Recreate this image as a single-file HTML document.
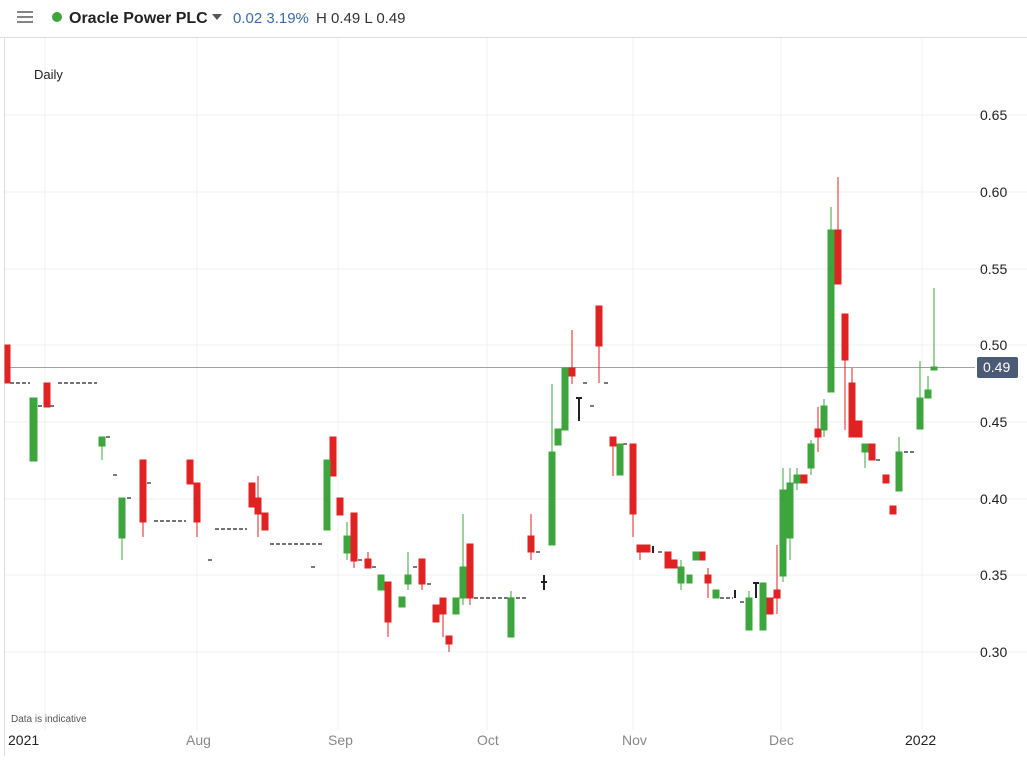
<!DOCTYPE html>
<html><head><meta charset="utf-8"><style>
body{margin:0;width:1027px;height:756px;background:#fff;overflow:hidden;font-family:"Liberation Sans",sans-serif}
</style></head><body>
<svg width="1027" height="756" xmlns="http://www.w3.org/2000/svg" font-family="Liberation Sans, sans-serif">
<rect width="1027" height="756" fill="#fff"/>
<line x1="0" y1="37.5" x2="1027" y2="37.5" stroke="#ddd"/>
<line x1="4.5" y1="37" x2="4.5" y2="756" stroke="#ddd"/>
<g stroke="#f0f0f0" stroke-width="1">
<line x1="45" y1="38" x2="45" y2="730"/><line x1="197" y1="38" x2="197" y2="730"/><line x1="338" y1="38" x2="338" y2="730"/><line x1="487" y1="38" x2="487" y2="730"/><line x1="633" y1="38" x2="633" y2="730"/><line x1="781" y1="38" x2="781" y2="730"/><line x1="922" y1="38" x2="922" y2="730"/>
<line x1="5" y1="115" x2="1027" y2="115"/><line x1="5" y1="192" x2="1027" y2="192"/><line x1="5" y1="269" x2="1027" y2="269"/><line x1="5" y1="345" x2="1027" y2="345"/><line x1="5" y1="422" x2="1027" y2="422"/><line x1="5" y1="499" x2="1027" y2="499"/><line x1="5" y1="575" x2="1027" y2="575"/><line x1="5" y1="652" x2="1027" y2="652"/>
</g>
<line x1="5" y1="367.5" x2="975" y2="367.5" stroke="#a0a4aa"/>
<g fill="#222" font-size="14">
<text x="980" y="120">0.65</text><text x="980" y="197">0.60</text><text x="980" y="274">0.55</text><text x="980" y="350">0.50</text><text x="980" y="427">0.45</text><text x="980" y="504">0.40</text><text x="980" y="580">0.35</text><text x="980" y="657">0.30</text>
</g>
<rect x="977" y="357" width="41" height="21" rx="2" fill="#4b5b75"/>
<text x="983" y="372" fill="#fff" font-size="14">0.49</text>
<g stroke="#666" stroke-width="1.6">
<line x1="17" y1="12" x2="33" y2="12"/><line x1="17" y1="17" x2="33" y2="17"/><line x1="17" y1="22" x2="33" y2="22"/>
</g>
<circle cx="57" cy="17" r="5" fill="#3ca63c"/>
<text x="69" y="23" font-size="16" font-weight="bold" fill="#222">Oracle Power PLC</text>
<path d="M212 14h10l-5 6z" fill="#555"/>
<text x="233" y="23" font-size="15" fill="#3a6ea5">0.02  3.19%</text>
<text x="316" y="23" font-size="15" fill="#333">H 0.49 L 0.49</text>
<text x="34" y="79" font-size="13" fill="#222">Daily</text>
<text x="11" y="722" font-size="10" fill="#555">Data is indicative</text>
<g font-size="14" fill="#888"><text x="186" y="745">Aug</text><text x="328" y="745">Sep</text><text x="477" y="745">Oct</text><text x="622" y="745">Nov</text><text x="769" y="745">Dec</text></g>
<g font-size="14" fill="#222"><text x="8" y="745">2021</text><text x="905" y="745">2022</text></g>
<g stroke="#222" stroke-width="1.2" stroke-dasharray="4,2">
<line x1="10" y1="383" x2="30" y2="383"/><line x1="38" y1="406" x2="56" y2="406"/><line x1="58" y1="383" x2="97" y2="383"/>
<line x1="106" y1="437" x2="111" y2="437"/><line x1="113" y1="475" x2="118" y2="475"/><line x1="127" y1="498" x2="132" y2="498"/>
<line x1="147" y1="483" x2="152" y2="483"/><line x1="154" y1="521" x2="186" y2="521"/><line x1="208" y1="560" x2="213" y2="560"/>
<line x1="215" y1="529" x2="247" y2="529"/><line x1="270" y1="544" x2="322" y2="544"/><line x1="311" y1="567" x2="316" y2="567"/>
<line x1="358" y1="560" x2="363" y2="560"/><line x1="372" y1="567" x2="377" y2="567"/><line x1="413" y1="567" x2="418" y2="567"/><line x1="427" y1="584" x2="432" y2="584"/>
<line x1="474" y1="598" x2="527" y2="598"/><line x1="536" y1="552" x2="541" y2="552"/><line x1="583" y1="383" x2="588" y2="383"/><line x1="590" y1="406" x2="595" y2="406"/><line x1="604" y1="383" x2="609" y2="383"/>
<line x1="623" y1="444" x2="629" y2="444"/><line x1="658" y1="552" x2="663" y2="552"/><line x1="720" y1="598" x2="733" y2="598"/><line x1="740" y1="602" x2="745" y2="602"/>
<line x1="876" y1="460" x2="881" y2="460"/><line x1="904" y1="452" x2="915" y2="452"/>
</g>
<g stroke="#222" stroke-width="2">
<line x1="544" y1="575" x2="544" y2="590"/><line x1="541" y1="582" x2="547" y2="582"/>
<line x1="579" y1="398" x2="579" y2="421"/><line x1="576" y1="398" x2="582" y2="398"/>
<line x1="653" y1="546" x2="653" y2="553"/><line x1="735" y1="590" x2="735" y2="598"/><line x1="756" y1="583" x2="756" y2="598"/><line x1="753" y1="583" x2="759" y2="583"/>
</g>
<g fill="#e02222" stroke="#e02222" stroke-width="1">
<rect x="5" y="345" width="5" height="38"/><rect x="44" y="383" width="6" height="24"/>
<rect x="140" y="460" width="6" height="62"/><line x1="143" y1="522" x2="143" y2="537"/>
<rect x="187" y="460" width="6" height="24"/><rect x="194" y="483" width="6" height="39"/><line x1="197" y1="522" x2="197" y2="537"/>
<rect x="249" y="483" width="6" height="24"/><rect x="255" y="498" width="6" height="16"/><line x1="258" y1="476" x2="258" y2="537"/><rect x="262" y="513" width="6" height="17"/>
<rect x="330" y="437" width="6" height="39"/><rect x="337" y="498" width="6" height="17"/>
<rect x="351" y="513" width="6" height="48"/><line x1="354" y1="561" x2="354" y2="568"/>
<rect x="365" y="559" width="6" height="9"/><line x1="368" y1="552" x2="368" y2="559"/>
<rect x="385" y="582" width="6" height="40"/><line x1="388" y1="622" x2="388" y2="637"/>
<rect x="419" y="559" width="6" height="25"/><line x1="422" y1="584" x2="422" y2="590"/>
<rect x="433" y="605" width="6" height="17"/><rect x="440" y="598" width="6" height="16"/><line x1="443" y1="614" x2="443" y2="637"/>
<rect x="446" y="636" width="6" height="8"/><line x1="449" y1="644" x2="449" y2="652"/>
<rect x="467" y="544" width="6" height="54"/><line x1="470" y1="598" x2="470" y2="605"/>
<rect x="528" y="536" width="6" height="16"/><line x1="531" y1="514" x2="531" y2="560"/>
<rect x="569" y="368" width="6" height="8"/><line x1="572" y1="330" x2="572" y2="384"/>
<rect x="596" y="306" width="6" height="40"/><line x1="599" y1="346" x2="599" y2="383"/>
<rect x="610" y="437" width="6" height="9"/><line x1="613" y1="446" x2="613" y2="476"/>
<rect x="630" y="444" width="6" height="70"/><line x1="633" y1="514" x2="633" y2="537"/>
<rect x="637" y="545" width="6" height="7"/><line x1="640" y1="552" x2="640" y2="560"/><rect x="644" y="545" width="6" height="7"/>
<rect x="665" y="552" width="6" height="16"/><rect x="670" y="560" width="7" height="8"/>
<rect x="699" y="552" width="6" height="8"/><rect x="705" y="575" width="6" height="8"/><line x1="708" y1="568" x2="708" y2="598"/>
<rect x="767" y="598" width="6" height="16"/><rect x="774" y="590" width="6" height="8"/><line x1="777" y1="545" x2="777" y2="614"/>
<rect x="801" y="475" width="6" height="8"/>
<rect x="815" y="429" width="6" height="8"/><line x1="818" y1="407" x2="818" y2="452"/>
<rect x="835" y="230" width="6" height="54"/><line x1="838" y1="177" x2="838" y2="230"/>
<rect x="842" y="314" width="6" height="46"/><line x1="845" y1="360" x2="845" y2="430"/>
<rect x="849" y="383" width="6" height="54"/><line x1="852" y1="368" x2="852" y2="383"/><rect x="855" y="421" width="7" height="16"/>
<rect x="869" y="444" width="6" height="16"/>
<rect x="883" y="475" width="6" height="8"/><rect x="890" y="506" width="6" height="8"/>
</g>
<g fill="#3ca63c" stroke="#3ca63c" stroke-width="1">
<rect x="30" y="398" width="7" height="63"/>
<rect x="99" y="437" width="6" height="9"/><line x1="102" y1="446" x2="102" y2="460"/>
<rect x="119" y="498" width="6" height="40"/><line x1="122" y1="538" x2="122" y2="560"/>
<rect x="324" y="460" width="6" height="70"/>
<rect x="344" y="536" width="6" height="17"/><line x1="347" y1="522" x2="347" y2="560"/>
<rect x="378" y="575" width="6" height="15"/><rect x="399" y="597" width="6" height="10"/>
<rect x="405" y="575" width="6" height="9"/><line x1="408" y1="552" x2="408" y2="590"/>
<rect x="453" y="598" width="6" height="16"/>
<rect x="460" y="567" width="6" height="31"/><line x1="463" y1="514" x2="463" y2="605"/>
<rect x="508" y="598" width="6" height="39"/><line x1="511" y1="591" x2="511" y2="598"/>
<rect x="549" y="452" width="6" height="93"/><line x1="552" y1="384" x2="552" y2="452"/>
<rect x="555" y="429" width="6" height="16"/><rect x="562" y="368" width="6" height="62"/>
<rect x="617" y="444" width="6" height="31"/>
<rect x="678" y="567" width="6" height="16"/><line x1="681" y1="560" x2="681" y2="590"/>
<rect x="687" y="575" width="5" height="8"/><rect x="693" y="552" width="6" height="8"/>
<rect x="713" y="590" width="6" height="8"/>
<rect x="746" y="598" width="6" height="32"/><line x1="749" y1="591" x2="749" y2="598"/>
<rect x="760" y="583" width="6" height="47"/>
<rect x="780" y="490" width="6" height="86"/><line x1="783" y1="468" x2="783" y2="582"/>
<rect x="787" y="483" width="6" height="55"/><line x1="790" y1="468" x2="790" y2="560"/>
<rect x="794" y="475" width="6" height="8"/><line x1="797" y1="468" x2="797" y2="490"/>
<rect x="808" y="444" width="6" height="24"/><line x1="811" y1="440" x2="811" y2="475"/>
<rect x="821" y="406" width="6" height="24"/><line x1="824" y1="399" x2="824" y2="437"/>
<rect x="828" y="230" width="6" height="162"/><line x1="831" y1="207" x2="831" y2="230"/>
<rect x="862" y="444" width="6" height="8"/><line x1="865" y1="452" x2="865" y2="468"/>
<rect x="896" y="452" width="6" height="39"/><line x1="899" y1="437" x2="899" y2="452"/>
<rect x="917" y="398" width="6" height="31"/><line x1="920" y1="361" x2="920" y2="398"/>
<rect x="925" y="390" width="6" height="8"/><line x1="928" y1="376" x2="928" y2="390"/>
<rect x="931" y="367" width="6" height="3"/><line x1="934" y1="288" x2="934" y2="367"/>
</g>
</svg>
</body></html>
